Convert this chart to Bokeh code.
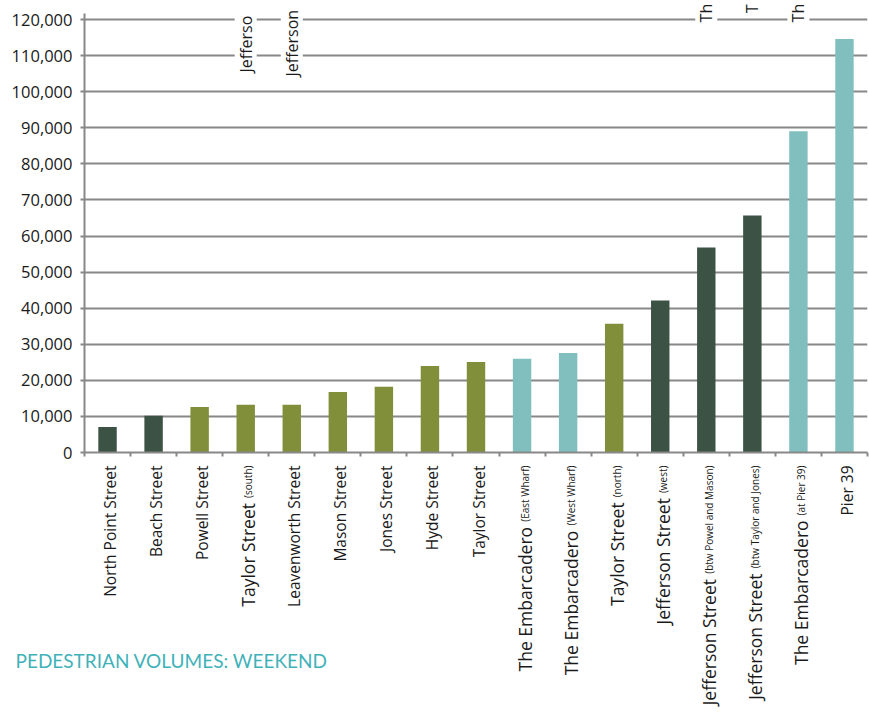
import math
from bokeh.plotting import figure
from bokeh.layouts import column
from bokeh.core.properties import value
from bokeh.models import (ColumnDataSource, LinearAxis, Range1d, FixedTicker,
                          NumeralTickFormatter, FactorRange, CustomJSTickFormatter)
from bokeh.transform import factor_cmap
from bokeh.embed import file_html
from bokeh.resources import INLINE

# ---------------- data ----------------
categories = [
    "North Point Street", "Beach Street", "Powell Street", "Taylor Street (south)",
    "Leavenworth Street", "Mason Street", "Jones Street", "Hyde Street", "Taylor Street",
    "The Embarcadero (East Wharf)", "The Embarcadero (West Wharf)", "Taylor Street (north)",
    "Jefferson Street (west)", "Jefferson Street (btw Powel and Mason)",
    "Jefferson Street (btw Taylor and Jones)", "The Embarcadero (at Pier 39)", "Pier 39",
]
volumes = [7100, 10200, 12600, 13200, 13200, 16800, 18200, 24000, 25100,
           26000, 27600, 35700, 42100, 56800, 65700, 89000, 114600]
street_type = ["dark", "dark", "olive", "olive", "olive", "olive", "olive", "olive", "olive",
               "teal", "teal", "olive", "dark", "dark", "dark", "teal", "teal"]
type_names = ["dark", "olive", "teal"]
type_colors = ["#3c5244", "#818f3a", "#80bfbd"]
y_ticks = list(range(0, 120001, 10000))
title_text = "PEDESTRIAN VOLUMES: WEEKEND"

# clipped label fragments visible at the top of the original
stray_text = ["Jefferso", "Jefferson", "Th", "T", "Th"]
stray_cat = ["Taylor Street (south)", "Leavenworth Street",
             "Jefferson Street (btw Powel and Mason)",
             "Jefferson Street (btw Taylor and Jones)", "The Embarcadero (at Pier 39)"]
stray_y = [105300, 104200, 119200, 121700, 119200]

# ---------------- layout constants ----------------
W = 869
LEFT = 84
RIGHT = 2
FRAME_H = 452
TOP_H = FRAME_H + 12  # height of the chart figure
BOT_H = 727 - TOP_H   # height of the label strip
CAT_PX = (W - LEFT - RIGHT) / len(categories)
Y_TOP = 125266        # value at the very top of the frame

# approximate Open Sans advance widths (em)
_W = {' ': 0.26, '(': 0.296, ')': 0.296, 'a': 0.556, 'b': 0.613, 'd': 0.613, 'e': 0.561,
      'h': 0.614, 'n': 0.614, 'o': 0.604, 'r': 0.408, 's': 0.477, 't': 0.353, 'u': 0.614,
      'w': 0.778, 'y': 0.502, 'l': 0.258, 'i': 0.258, 'f': 0.339, 'E': 0.556, 'W': 0.93,
      'P': 0.602, 'M': 0.903, 'T': 0.556, 'J': 0.267, '3': 0.572, '9': 0.572}


def text_width(s, size):
    return sum(_W.get(c, 0.55) for c in s) * size


MAIN_SIZE = 15.5
MAIN_SIZE_SUFFIXED = 17.5
SUB_SIZE = 10.0
TOP_GAP = 1.0
BASE_SHIFT = 2.5

mains, subs, main_y, sub_y, xc, fs = [], [], [], [], [], []
for i, c in enumerate(categories):
    if " (" in c:
        m, s = c.split(" (", 1)
        s = "(" + s
    else:
        m, s = c, ""
    mains.append(m)
    subs.append(s)
    w = text_width(s, SUB_SIZE) + 5 if s else 0
    main_y.append(-(TOP_GAP + w))
    sub_y.append(-TOP_GAP)
    xc.append(i + 0.5)
    fs.append(f"{MAIN_SIZE_SUFFIXED if s else MAIN_SIZE}px")

src = ColumnDataSource(dict(cat=categories, val=volumes, kind=street_type))
lab_src = ColumnDataSource(dict(x=xc, main=mains, sub=subs, my=main_y, sy=sub_y, fs=fs))
stray_src = ColumnDataSource(dict(cat=stray_cat, y=stray_y, text=stray_text))

# ---------------- chart ----------------
p = figure(x_range=FactorRange(factors=categories), y_range=Range1d(0, Y_TOP),
           width=W, height=TOP_H, output_backend="svg", toolbar_location=None,
           min_border_left=LEFT, min_border_right=RIGHT, min_border_top=0,
           min_border_bottom=TOP_H - FRAME_H,
           background_fill_color="white", border_fill_color="white")
p.frame_align = False
p.outline_line_color = None
p.xaxis.visible = False
p.xgrid.visible = False

p.ygrid.ticker = FixedTicker(ticks=y_ticks)
p.ygrid.grid_line_color = "#888888"
p.ygrid.grid_line_width = 2

yax = p.yaxis[0]
yax.ticker = FixedTicker(ticks=y_ticks)
yax.bounds = (0, 121800)
yax.formatter = NumeralTickFormatter(format="0,0")
yax.axis_line_color = "#888888"
yax.axis_line_width = 2
yax.major_tick_line_color = "#888888"
yax.major_tick_line_width = 2
yax.major_tick_in = 0
yax.major_tick_out = 4
yax.minor_tick_line_color = None
yax.major_label_standoff = 8
yax.major_label_text_font = "Open Sans"
yax.major_label_text_font_size = "16.5px"
yax.major_label_text_color = "#1a1a1a"

# boundary ticks between categories (synthetic category coordinates 0..N)
xax = LinearAxis(ticker=FixedTicker(ticks=list(range(len(categories) + 1))),
                 formatter=CustomJSTickFormatter(code="return ''"),
                 major_label_standoff=0, axis_line_color="#888888", axis_line_width=2,
                 major_tick_line_color="#888888", major_tick_line_width=2,
                 major_tick_in=0, major_tick_out=4, minor_tick_line_color=None)
p.add_layout(xax, "below")

p.vbar(x="cat", top="val", width=0.4, source=src,
       fill_color=factor_cmap("kind", type_colors, type_names), line_color=None)

p.text(x="cat", y="y", text="text", source=stray_src, angle=math.pi / 2,
       text_align="left", text_baseline="middle", text_font=value("Open Sans"),
       text_font_size=value("16px"), text_color="#1a1a1a",
       background_fill_color="white")

# ---------------- label strip ----------------
p2 = figure(x_range=Range1d(-LEFT / CAT_PX, len(categories) + RIGHT / CAT_PX),
            y_range=Range1d(-BOT_H, 0), width=W, height=BOT_H,
            output_backend="svg", toolbar_location=None,
            min_border_left=0, min_border_right=0, min_border_top=0, min_border_bottom=0,
            background_fill_color="white", border_fill_color="white")
p2.frame_align = False
p2.axis.visible = False
p2.grid.visible = False
p2.outline_line_color = None

p2.text(x="x", y="sy", text="sub", source=lab_src, angle=math.pi / 2, x_offset=BASE_SHIFT,
        text_align="right", text_baseline="alphabetic", text_font=value("Open Sans"),
        text_font_size=value(f"{SUB_SIZE}px"), text_color="#1a1a1a")
p2.text(x="x", y="my", text="main", source=lab_src, angle=math.pi / 2, x_offset=BASE_SHIFT,
        text_align="right", text_baseline="alphabetic", text_font=value("Open Sans"),
        text_font_size="fs", text_color="#1a1a1a")

p2.text(x=[(15 - LEFT) / CAT_PX], y=[-(660 - TOP_H)], text=[title_text],
        text_align="left", text_baseline="alphabetic", text_font=value("Lato"),
        text_font_size=value("19px"), text_color="#3fb2b9")

layout = column(p, p2, spacing=0)
open("out.html", "w").write(file_html(layout, INLINE))
